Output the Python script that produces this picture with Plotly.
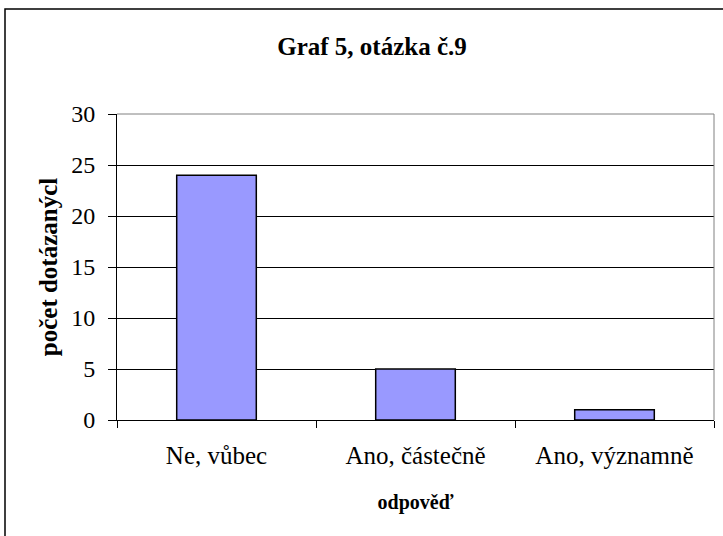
"""Bar chart: Graf 5, otázka č.9."""

import plotly.graph_objects as go

# data
categories = ["Ne, vůbec", "Ano, částečně", "Ano, významně"]
counts = [24, 5, 1]
y_ticks = [0, 5, 10, 15, 20, 25, 30]

W, H = 723, 536
L, R, T, B = 117, 9, 114, 116
pw, ph = W - L - R, H - T - B

FONT = "Liberation Serif"

fig = go.Figure()
fig.add_trace(go.Bar(
    x=categories,
    y=counts,
    width=0.4,
    marker=dict(color="#9999FF", line=dict(color="#000000", width=1.5)),
    hoverinfo="x+y",
))


def px_to_paper_x(px):
    return (px - L) / pw


def px_to_paper_y(py):
    return (H - B - py) / ph


fig.update_layout(
    width=W,
    height=H,
    margin=dict(l=L, r=R, t=T, b=B),
    paper_bgcolor="white",
    plot_bgcolor="white",
    font=dict(family=FONT, color="black", size=24),
    showlegend=False,
    title=dict(
        text="<b>Graf 5, otázka č.9</b>",
        x=px_to_paper_x(372), xref="paper", xanchor="center",
        y=1 - 46 / H, yanchor="middle",
        font=dict(size=25, family=FONT),
    ),
    xaxis=dict(
        tickson="boundaries",
        ticks="outside",
        ticklen=7,
        tickcolor="black",
        showline=True,
        linecolor="black",
        linewidth=1,
        showgrid=False,
        tickfont=dict(size=25, family=FONT),
        ticklabelstandoff=13,
        title=dict(text="<b>odpověď</b>", font=dict(size=20, family=FONT), standoff=26),
    ),
    yaxis=dict(
        range=[0, 30],
        tickmode="array",
        tickvals=y_ticks,
        ticks="outside",
        ticklen=8,
        tickcolor="black",
        showline=True,
        linecolor="black",
        linewidth=1,
        showgrid=True,
        gridcolor="black",
        gridwidth=1,
        zeroline=False,
        tickfont=dict(size=24, family=FONT),
        ticklabelstandoff=8,
        title=dict(text="<b>počet dotázanýcl</b>", font=dict(size=25, family=FONT), standoff=6),
    ),
    shapes=[
        # plot area border (grey top/right)
        dict(type="line", xref="paper", yref="paper", x0=0, x1=1, y0=1, y1=1,
             line=dict(color="#808080", width=1), layer="above"),
        dict(type="line", xref="paper", yref="paper", x0=1, x1=1, y0=0, y1=1,
             line=dict(color="#808080", width=1), layer="above"),
        # outer chart border (right and bottom edges fall outside the picture)
        dict(type="rect", xref="paper", yref="paper",
             x0=px_to_paper_x(5), x1=px_to_paper_x(740),
             y0=px_to_paper_y(550), y1=px_to_paper_y(9),
             line=dict(color="black", width=1.5)),
    ],
)

# drop the browser's default page margin so the figure sits at (0, 0)
fig.write_html(
    "out.html",
    config={"displayModeBar": False},
    post_script="document.body.style.margin='0';",
)
